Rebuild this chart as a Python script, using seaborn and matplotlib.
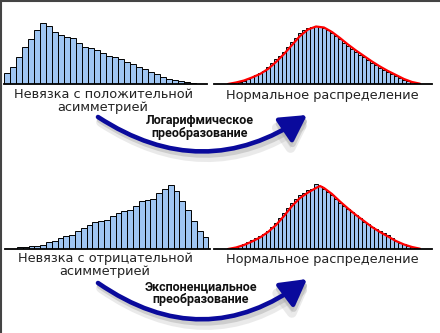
import numpy as np
import pandas as pd
import matplotlib
matplotlib.use("Agg")
import matplotlib.pyplot as plt
import seaborn as sns
from matplotlib.patches import FancyArrowPatch
from matplotlib.lines import Line2D

sns.set_theme(style="white")
plt.rcParams['font.family'] = ['DejaVu Sans']

# ---- data (heights, in arbitrary units) ----
pos_skew = [11.3, 17.3, 26.7, 37.3, 44.7, 54, 60.7, 58, 52.3, 49, 47.3, 45.7, 41.3,
            37.3, 35.7, 34, 31.3, 28, 26.7, 24.7, 22.3, 20, 16.7, 14.7, 12.3, 10,
            7.3, 5.3, 4, 2.7, 1.7, 1]
neg_skew = [1.7, 2, 2.7, 3.3, 4.3, 6.7, 8.3, 10.7, 13.3, 14.3, 17.7, 21, 24.3, 26.7,
            27.7, 29.3, 32.7, 36, 37.7, 39.3, 42.7, 47.7, 49.3, 50.3, 56, 60, 64.3,
            57.7, 47.7, 39.3, 27.7, 18.3, 12]
norm_top = [1, 1.6, 2.3, 3.5, 5.3, 7.5, 9.3, 11, 13.2, 17.3, 21.3, 25, 28.2, 31.8,
            37.2, 42.3, 46.5, 50.7, 53.6, 56, 57.3, 58, 57.3, 56.2, 53.7, 51.3, 48.2,
            44.8, 41.5, 38.2, 34.8, 32, 29.3, 26.7, 24, 21.3, 18.6, 15.9, 13.6, 12,
            10.4, 8.5, 6.3, 4.4, 2.8, 1.6, 0.8]
norm_bottom = [1, 2.2, 3.3, 5.1, 7, 8.8, 10.8, 12.8, 15, 18.5, 21.8, 26, 30.8, 35.6,
               40.8, 46, 50.2, 54.3, 56.5, 58.7, 60.5, 65, 62.7, 60, 57.3, 54, 50, 46,
               43, 39.8, 36.8, 34, 31, 27.3, 25, 22.3, 19.8, 17.8, 15.8, 13.6, 11, 8.3,
               6.4, 4.7, 3, 1.8, 0.8]
curve_top_x = [-1, 1, 3, 5, 7, 9, 11, 13, 15, 17, 19, 21, 23, 25, 27, 29, 31, 33, 35,
               37, 39, 41, 43, 45, 47]
curve_top_y = [0, 1.5, 3.5, 6.5, 10, 15, 22, 30, 39, 48, 54.5, 57.5, 56.5, 52, 46,
               39.5, 33.5, 28, 22.5, 17.5, 13, 9, 5, 2, 0.3]
curve_bot_x = [-1, 1, 3, 5, 7, 9, 11, 13, 15, 17, 19, 21, 22, 23, 25, 27, 29, 31, 33,
               35, 37, 39, 41, 43, 45, 47]
curve_bot_y = [0, 1.5, 4, 7.5, 11.5, 17, 24, 33, 43, 51, 56.5, 61, 63, 61, 55, 47.5,
               40.5, 34, 28, 22, 17, 12.5, 8, 4.5, 2, 0.3]

label_pos = "Невязка с положительной\nасимметрией"
label_neg = "Невязка с отрицательной\nасимметрией"
label_norm = "Нормальное распределение"
label_log = "Логарифмическое\nпреобразование"
label_exp = "Экспоненциальное\nпреобразование"

BAR = "#9fc5f2"
W, H = 440, 333
fig = plt.figure(figsize=(W / 100, H / 100), dpi=100)
fig.patch.set_facecolor("white")


def add_ax(l, r, t, b):
    return fig.add_axes([l / W, 1 - b / H, (r - l) / W, (b - t) / H])


def hist(l, r, t, b, p0, bw, vals, cx=None, cy=None):
    ax = add_ax(l, r, t, b)
    df = pd.DataFrame({"i": list(range(len(vals))), "v": vals})
    sns.barplot(data=df, x="i", y="v", ax=ax, width=1, color=BAR, saturation=1,
                edgecolor="black", linewidth=0.7, errorbar=None)
    if cx is not None:
        cdf = pd.DataFrame({"x": cx, "y": cy})
        sns.lineplot(data=cdf, x="x", y="y", ax=ax, color="#ff0000", lw=1.6,
                     sort=False)
    ax.set_xlim(-0.5 - (p0 - l) / bw, -0.5 + (r - p0) / bw)
    ax.set_ylim(0, b - t)
    for s in ["top", "left", "right"]:
        ax.spines[s].set_visible(False)
    ax.spines["bottom"].set_color("black")
    ax.spines["bottom"].set_linewidth(1.3)
    ax.set_xticks([])
    ax.set_yticks([])
    ax.set_xlabel("")
    ax.set_ylabel("")
    ax.patch.set_alpha(0)
    return ax


hist(4, 207, 14, 84, 4, 6, pos_skew)
hist(214, 432, 14, 84, 230, 4, norm_top, curve_top_x, curve_top_y)
hist(5, 210, 179, 249, 17, 5.8, neg_skew)
hist(214, 432, 179, 249, 230, 4, norm_bottom, curve_bot_x, curve_bot_y)

# overlay in pixel coordinates
ov = fig.add_axes([0, 0, 1, 1])
ov.set_xlim(0, W)
ov.set_ylim(H, 0)
ov.axis("off")
ov.patch.set_alpha(0)

txt = dict(ha="center", va="center", fontsize=9.3, color="#222222", linespacing=0.95)
ov.text(103, 101, label_pos, **txt)
ov.text(322, 95, label_norm, **txt)
ov.text(105, 265, label_neg, **txt)
ov.text(322, 260, label_norm, **txt)


def arrow(x1, y1, x2, y2, rad):
    style = "-|>,head_length=0.75,head_width=0.42"
    for (dx, dy, col, lw, a) in [(3, 5, "#bbbbbb", 7, 0.3), (2, 3, "#aaaaaa", 4.5, 0.45)]:
        p = FancyArrowPatch((x1 + dx, y1 + dy), (x2 + dx, y2 + dy),
                            connectionstyle=f"arc3,rad={rad}",
                            arrowstyle=style, mutation_scale=21, color=col, lw=lw,
                            alpha=a, shrinkA=0, shrinkB=0)
        ov.add_patch(p)
    p = FancyArrowPatch((x1, y1), (x2, y2), connectionstyle=f"arc3,rad={rad}",
                        arrowstyle=style, mutation_scale=21, color="#0a0a9c", lw=3.3,
                        shrinkA=0, shrinkB=0)
    ov.add_patch(p)


arrow(98, 117, 307, 115, 0.333)
arrow(98, 283, 307, 279, 0.36)

btxt = dict(ha="center", va="center", fontsize=9.0, fontweight="bold",
            family=["Roboto", "DejaVu Sans"], color="#111111",
            linespacing=1.0)
ov.text(200, 127, label_log, **btxt)
ov.text(201, 293, label_exp, **btxt)

# frame lines at top and left
fig.add_artist(Line2D([0, 1], [1 - 0.5 / H, 1 - 0.5 / H], color="#444444", lw=1.5,
                      transform=fig.transFigure))
fig.add_artist(Line2D([0.5 / W, 0.5 / W], [0, 1], color="#444444", lw=1.5,
                      transform=fig.transFigure))

fig.savefig("out.png", dpi=100)
